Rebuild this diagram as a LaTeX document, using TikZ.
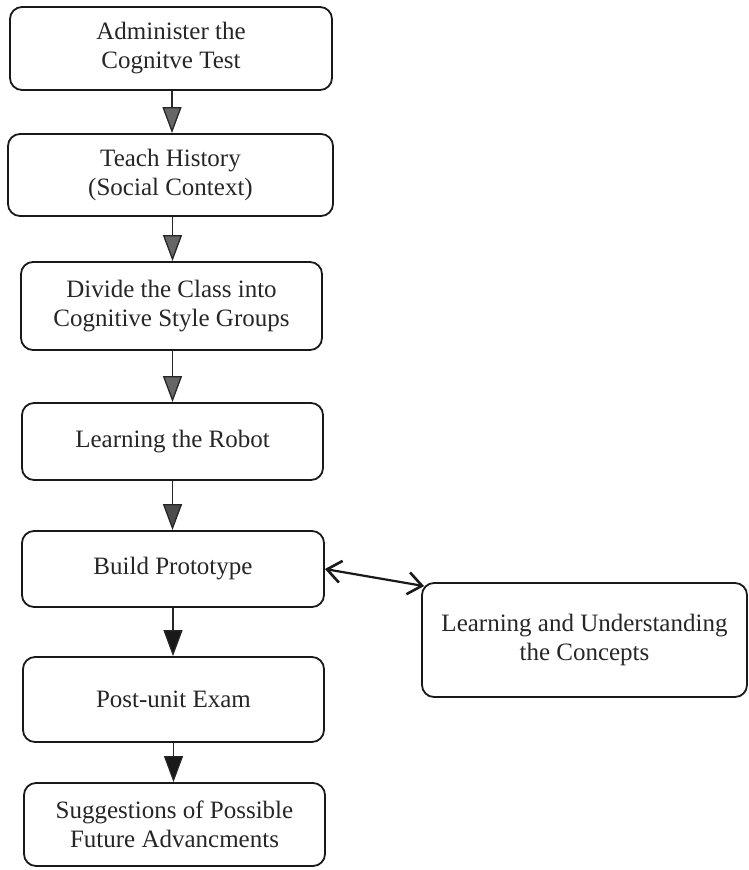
\documentclass[tikz,border=0pt]{standalone}
\usepackage{fontspec}
\setmainfont{Liberation Serif}
\usetikzlibrary{arrows.meta,calc}
\begin{document}
\begin{tikzpicture}[x=1pt,y=-1pt,
  box/.style={draw=black!90, line width=1.8pt, rounded corners=12pt, inner sep=0pt,
    align=center, font=\fontsize{25}{29}\selectfont, text=black!85},
  flow/.style={line width=1.3pt, draw=black!85,
    -{Triangle[length=26pt,width=19pt,fill=#1]}},
  flow/.default={black!65},
  dbl/.style={line width=2.2pt, draw=black!90,
    {Straight Barb[length=14pt,width=22pt,line width=2.6pt]}-{Straight Barb[length=14pt,width=22pt,line width=2.6pt]}}
]
\useasboundingbox (0,0) rectangle (748,870);
\node[box, minimum width=322pt, minimum height=83pt] (b1) at (171,48.5) {Administer the\\Cognitve Test};
\node[box, minimum width=325pt, minimum height=82pt] (b2) at (170.5,175) {Teach History\\(Social Context)};
\node[box, minimum width=301pt, minimum height=88pt] (b3) at (171.5,306) {Divide the Class into\\Cognitive Style Groups};
\node[box, minimum width=301pt, minimum height=77pt] (b4) at (172.5,441.5) {Learning the Robot};
\node[box, minimum width=302pt, minimum height=76pt] (b5) at (173,569) {Build Prototype};
\node[box, minimum width=301pt, minimum height=85pt] (b6) at (173.5,699.5) {Post-unit Exam};
\node[box, minimum width=301pt, minimum height=83pt] (b7) at (174.5,824.5) {Suggestions of Possible\\Future Advancments};
\node[box, minimum width=325pt, minimum height=114pt] (r) at (584.5,640) {Learning and Understanding\\the Concepts};

\draw[flow=black!60] ($(b1.south)+(1,0)$) -- ($(b1.south |- b2.north)+(1,0)$);
\draw[flow=black!60] ($(b2.south)+(2,0)$) -- ($(b2.south |- b3.north)+(2,0)$);
\draw[flow=black!60] ($(b3.south)+(1,0)$) -- ($(b3.south |- b4.north)+(1,0)$);
\draw[flow=black!70] (b4.south) -- (b4.south |- b5.north);
\draw[flow=black!90] (b5.south) -- (b5.south |- b6.north);
\draw[flow=black!90] (b6.south) -- (b6.south |- b7.north);

\coordinate (rtip) at ([shift={(3,4)}]r.north west);
\draw[dbl] (b5.east) -- (rtip);
\end{tikzpicture}
\end{document}
